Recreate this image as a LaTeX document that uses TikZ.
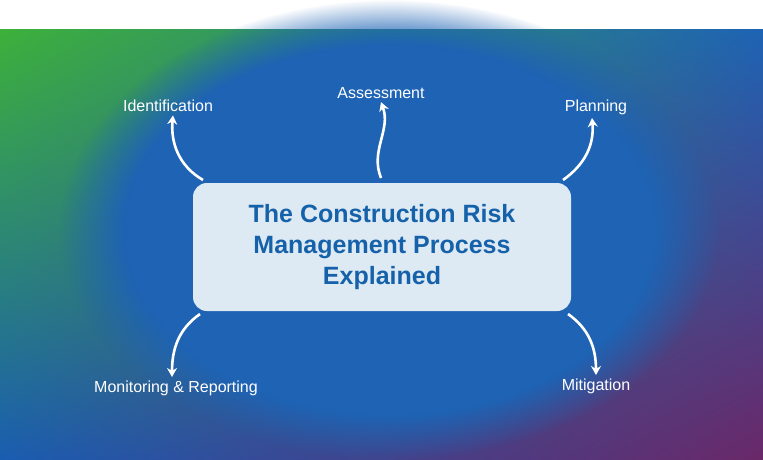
\documentclass[tikz,border=0pt]{standalone}
\usepackage{fontspec}
\setmainfont{Liberation Sans}
\usetikzlibrary{positioning, arrows.meta, shadings, fadings}
\definecolor{bggreen}{HTML}{3DB03A}
\definecolor{bgblue}{HTML}{1E63B4}
\definecolor{bgblue2}{HTML}{1A5DB0}
\definecolor{bgpurple}{HTML}{6A2868}
\definecolor{boxfill}{HTML}{DDE9F3}
\definecolor{titleblue}{HTML}{1662AA}
\tikzset{
  box/.style   = {draw=none, fill=boxfill, rounded corners=14pt, minimum width=378pt, minimum height=128pt, align=center, font=\bfseries\fontsize{25}{31}\selectfont, text=titleblue},
  step label/.style = {text=white, font=\fontsize{16}{18}\selectfont},
  flow/.style  = {draw=white, line width=2.6pt, -{Stealth[length=9pt,width=10pt]}}
}
\begin{document}
\begin{tikzpicture}[x=1pt, y=-1pt]

% background
\shade[upper left=bggreen, upper right=bgblue, lower left=bgblue2, lower right=bgpurple] (0,0) rectangle (763,429);
\fill[bgblue, path fading=circle with fuzzy edge 20 percent] (390,200) ellipse (330pt and 230pt);
\useasboundingbox (0,0) rectangle (763,429);

% nodes
\node [box]        at (382,217) (main) {The Construction Risk\\Management Process\\Explained};
\node [step label] at (168, 76) (ident)  {Identification};
\node [step label] at (381, 63) (assess) {Assessment};
\node [step label] at (596, 77) (plan)   {Planning};
\node [step label] at (176,358) (monit)  {Monitoring \& Reporting};
\node [step label] at (596,356) (mitig)  {Mitigation};

\coordinate (c1) at (203,150);
\coordinate (c2) at (381,148);
\coordinate (c3) at (563,150);
\coordinate (c4) at (200,284);
\coordinate (c5) at (568,284);

% edges
\draw [flow] (c1) to [out=150, in=-95] ([xshift=5pt]ident.south);
\draw [flow] (c2) to [out=112, in=-70] (assess.south);
\draw [flow] (c3) to [out=35, in=-85] ([xshift=-4pt]plan.south);
\draw [flow] (c4) to [out=-145, in=90] ([xshift=-4pt]monit.north);
\draw [flow] (c5) to [out=-35, in=90] (mitig.north);

\end{tikzpicture}
\end{document}
